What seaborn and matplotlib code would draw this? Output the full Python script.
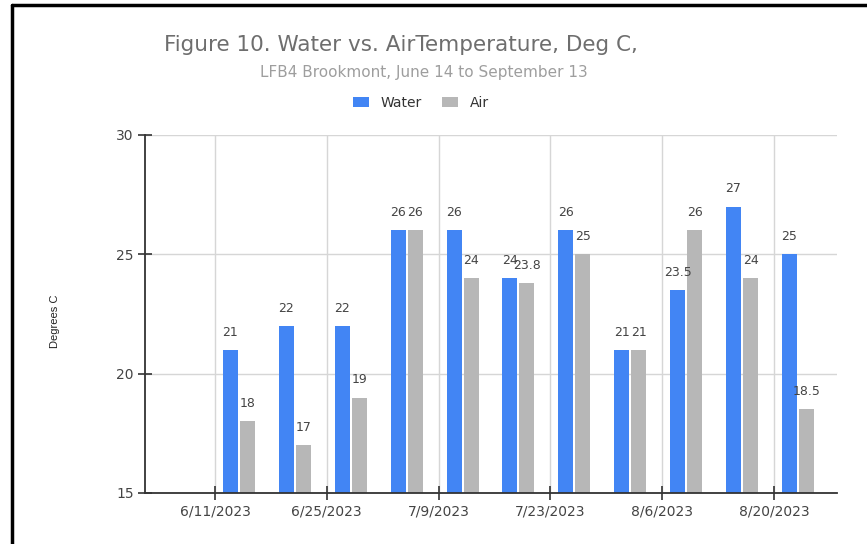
import pandas as pd
import matplotlib.pyplot as plt
import matplotlib.dates as mdates
from matplotlib.lines import Line2D
import seaborn as sns

# weekly readings
dates = ['2023-06-14', '2023-06-21', '2023-06-28', '2023-07-05', '2023-07-12', '2023-07-19',
         '2023-07-26', '2023-08-02', '2023-08-09', '2023-08-16', '2023-08-23']
water = [21, 22, 22, 26, 26, 24, 26, 21, 23.5, 27, 25]
air = [18, 17, 19, 26, 24, 23.8, 25, 21, 26, 24, 18.5]

tick_dates = ['2023-06-11', '2023-06-25', '2023-07-09', '2023-07-23', '2023-08-06', '2023-08-20']
tick_labels = ['6/11/2023', '6/25/2023', '7/9/2023', '7/23/2023', '8/6/2023', '8/20/2023']

day_num = mdates.date2num(pd.to_datetime(dates))
df = pd.DataFrame({
    'day': list(day_num) * 2,
    'temp': water + air,
    'series': ['Water'] * len(water) + ['Air'] * len(air),
})

sns.set_style('white')
plt.rcParams['font.family'] = ['DejaVu Sans']

fig = plt.figure(figsize=(8.67, 5.44), dpi=100)
ax = fig.add_axes([145 / 867, 1 - 493 / 544, 692 / 867, 358 / 544])

sns.barplot(data=df, x='day', y='temp', hue='series', native_scale=True,
            palette={'Water': '#4285f4', 'Air': '#b7b7b7'}, saturation=1,
            width=0.61, gap=0.12, linewidth=0, ax=ax, zorder=3)

for cont in ax.containers:
    ax.bar_label(cont, padding=8, fontsize=9, color='#444444')

ax.set_ylim(15, 30)
ax.set_yticks([15, 20, 25, 30])
t0 = mdates.date2num(pd.Timestamp('2023-06-11'))
ax.set_xlim(t0 - 8.77, t0 + 77.9)
ax.set_xticks(mdates.date2num(pd.to_datetime(tick_dates)))
ax.set_xticklabels(tick_labels)
ax.tick_params(axis='both', left=True, bottom=True, direction='inout', length=10, width=1.2,
               color='#333333', labelsize=10, labelcolor='#444444')
ax.tick_params(axis='x', pad=3)
ax.tick_params(axis='y', pad=3)
ax.grid(True, color='#d6d6d6', linewidth=1, zorder=0)
ax.set_axisbelow(True)
sns.despine(ax=ax)
for s in ['left', 'bottom']:
    ax.spines[s].set_color('#333333')
    ax.spines[s].set_linewidth(1.3)
    ax.spines[s].set_zorder(5)

ax.set_xlabel('')
ax.set_ylabel('Degrees C', fontsize=8, color='#222222', family=['Liberation Sans'])
ax.yaxis.set_label_coords(-0.123, 0.48)

handles, labels = ax.get_legend_handles_labels()
ax.legend_.remove()
fig.legend(handles, labels, loc='center', bbox_to_anchor=(421 / 867, 1 - 103 / 544),
           ncol=2, frameon=False, fontsize=10, handlelength=1.15, handleheight=0.8,
           columnspacing=1.5, handletextpad=0.8, labelcolor='#333333')

fig.text(401 / 867, 1 - 45 / 544, 'Figure 10. Water vs. AirTemperature, Deg C,',
         ha='center', va='center', fontsize=15.5, color='#6e6e6e')
fig.text(424 / 867, 1 - 72 / 544, 'LFB4 Brookmont, June 14 to September 13',
         ha='center', va='center', fontsize=11, color='#9e9e9e')

# screenshot frame
fig.add_artist(Line2D([12 / 867, 12 / 867], [0, 1 - 5 / 544], color='black', linewidth=2.5))
fig.add_artist(Line2D([12 / 867, 1], [1 - 5 / 544, 1 - 5 / 544], color='black', linewidth=2.5))

fig.savefig('out.png', dpi=100)
